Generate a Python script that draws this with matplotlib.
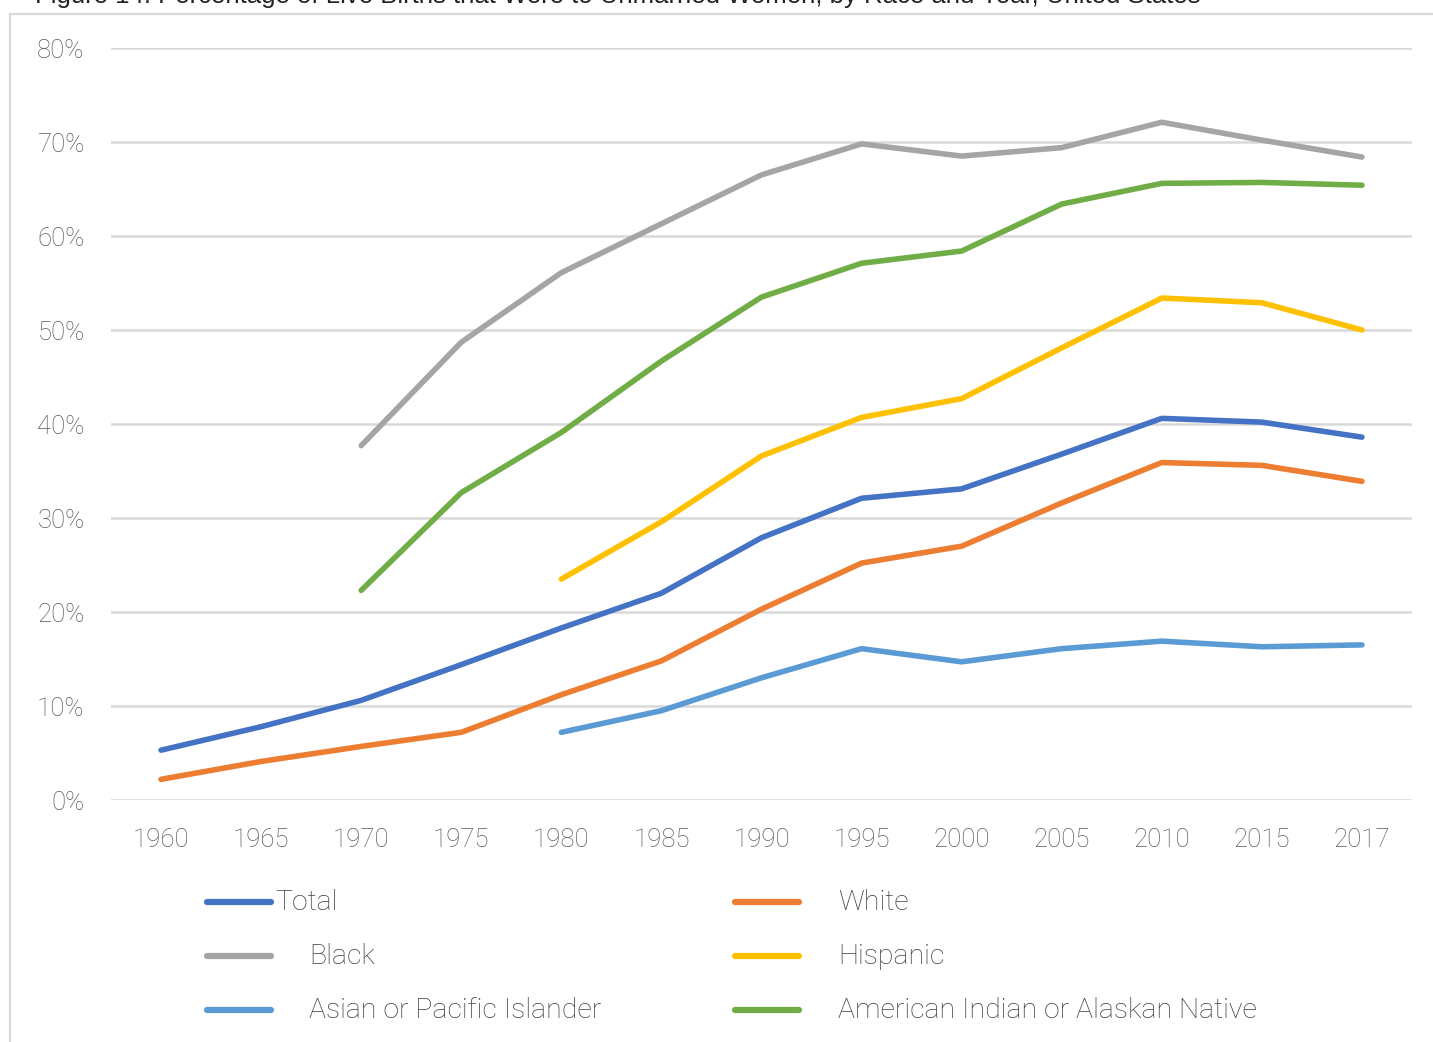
import matplotlib.pyplot as plt
from matplotlib.lines import Line2D
from matplotlib.patches import Rectangle
import numpy as np

years = ['1960', '1965', '1970', '1975', '1980', '1985', '1990', '1995',
         '2000', '2005', '2010', '2015', '2017']
nan = np.nan

total = [5.3, 7.8, 10.6, 14.4, 18.3, 22.0, 27.9, 32.1, 33.1, 36.8, 40.6, 40.2, 38.6]
white = [2.2, 4.1, 5.7, 7.2, 11.2, 14.8, 20.3, 25.2, 27.0, 31.6, 35.9, 35.6, 33.9]
black = [nan, nan, 37.7, 48.7, 56.1, 61.3, 66.5, 69.8, 68.5, 69.4, 72.1, 70.2, 68.4]
hispanic = [nan, nan, nan, nan, 23.5, 29.6, 36.6, 40.7, 42.7, 48.1, 53.4, 52.9, 50.0]
asian_pi = [nan, nan, nan, nan, 7.2, 9.5, 13.0, 16.1, 14.7, 16.1, 16.9, 16.3, 16.5]
aian = [nan, nan, 22.3, 32.7, 39.1, 46.7, 53.5, 57.1, 58.4, 63.4, 65.6, 65.7, 65.4]

series = [
    ('Total', total, '#4472C4'),
    ('White', white, '#ED7D31'),
    ('Black', black, '#A5A5A5'),
    ('Hispanic', hispanic, '#FFC000'),
    ('Asian or Pacific Islander', asian_pi, '#5B9BD5'),
    ('American Indian or Alaskan Native', aian, '#70AD47'),
]

plt.rcParams['font.family'] = ['Roboto', 'DejaVu Sans']

W, H = 1433, 1042
fig = plt.figure(figsize=(W / 100, H / 100), dpi=100)

# outer chart border
fig.add_artist(Rectangle((10 / W, -0.01), 1.02 - 10 / W, 1 - 14 / H + 0.01,
                         transform=fig.transFigure, fill=False,
                         edgecolor='#D9D9D9', linewidth=1.6))

# caption, cut off at the top edge as in the original
fig.text(35 / W, 1 - 3 / H,
         'Figure 14: Percentage of Live Births that Were to Unmarried Women, by Race and Year, United States',
         family='Liberation Sans', fontsize=18.5, color='#222222', va='baseline', ha='left')

ax = fig.add_axes([111 / W, 1 - 800 / H, (1412 - 111) / W, (800 - 48) / H])
x = np.arange(len(years))
for name, vals, col in series:
    ax.plot(x, vals, color=col, linewidth=4.0, solid_capstyle='round',
            solid_joinstyle='round', label=name)

ax.set_xlim(-0.5, len(years) - 0.5)
ax.set_ylim(0, 80)
ax.set_yticks(range(0, 81, 10))
ax.set_yticklabels([f'{v}%' for v in range(0, 81, 10)])
ax.set_xticks(x)
ax.set_xticklabels(years)
ax.yaxis.grid(True, color='#D9D9D9', linewidth=1.8)
ax.set_axisbelow(True)
for s in ax.spines.values():
    s.set_visible(False)
ax.tick_params(length=0, labelsize=18.5, labelcolor='#595959')
ax.tick_params(axis='y', pad=19)
ax.tick_params(axis='x', pad=20)
for lab in ax.get_xticklabels() + ax.get_yticklabels():
    lab.set_fontweight('light')

# legend laid out like the original (two columns, three rows)
legend_pos = {
    'Total': (207, 902, 275),
    'Black': (207, 956, 309),
    'Asian or Pacific Islander': (207, 1010, 309),
    'White': (735, 902, 838),
    'Hispanic': (735, 956, 838),
    'American Indian or Alaskan Native': (735, 1010, 838),
}
for name, vals, col in series:
    hx, hy, tx = legend_pos[name]
    fig.add_artist(Line2D([hx / W, (hx + 64) / W], [1 - hy / H, 1 - hy / H],
                          transform=fig.transFigure, color=col, linewidth=4.5,
                          solid_capstyle='round'))
    fig.text(tx / W, 1 - (hy + 1) / H, name, fontsize=20.5, color='#404040',
             fontweight='light', va='center', ha='left')

fig.savefig('out.png', dpi=100)
